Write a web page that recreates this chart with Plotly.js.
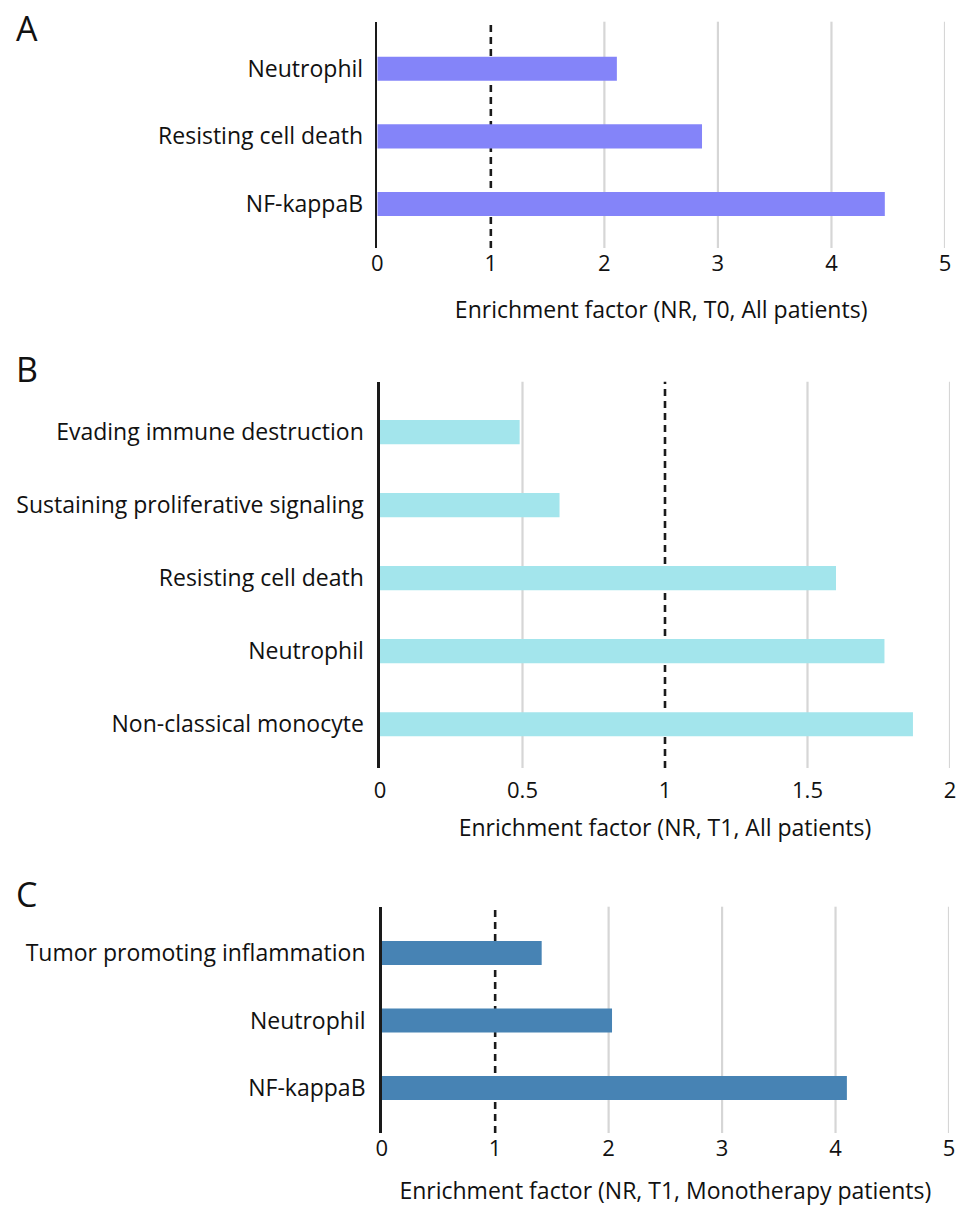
<!DOCTYPE html>
<html>
<head>
<meta charset="utf-8">
<script src="https://cdn.plot.ly/plotly-3.0.1.min.js"></script>
<style>
  html, body { margin: 0; padding: 0; background: #ffffff; }
  #chart { width: 956px; height: 1206px; }
</style>
</head>
<body>
<div id="chart"></div>
<script>
// ---------- data ----------
const catsA = ['Neutrophil', 'Resisting cell death', 'NF-kappaB'];
const valsA = [2.11, 2.86, 4.47];

const catsB = ['Evading immune destruction', 'Sustaining proliferative signaling',
               'Resisting cell death', 'Neutrophil', 'Non-classical monocyte'];
const valsB = [0.49, 0.63, 1.60, 1.77, 1.87];

const catsC = ['Tumor promoting inflammation', 'Neutrophil', 'NF-kappaB'];
const valsC = [1.41, 2.03, 4.10];

const ticksA = [0, 1, 2, 3, 4, 5];
const tickTextA = ['0', '1', '2', '3', '4', '5'];
const ticksB = [0, 0.5, 1, 1.5, 2];
const tickTextB = ['0', '0.5', '1', '1.5', '2'];
const ticksC = [0, 1, 2, 3, 4, 5];
const tickTextC = ['0', '1', '2', '3', '4', '5'];

const refValue = 1;
const panelLetters = ['A', 'B', 'C'];
const axisTitles = [
  'Enrichment factor (NR, T0, All patients)',
  'Enrichment factor (NR, T1, All patients)',
  'Enrichment factor (NR, T1, Monotherapy patients)'
];

// ---------- styling ----------
const FONT = 'Open Sans, Noto Sans, sans-serif';
const W = 956, H = 1206;
const colors = ['#8484F9', '#A3E5EC', '#4783B4'];

const panels = [
  { cats: catsA, vals: valsA, ticks: ticksA, text: tickTextA, range: [0, 5],
    xDom: [377.3 / W, 945 / W], yTop: 21.7, yBot: 248, pad: [0.695, 0.65], width: 0.355,
    ticklen: 0, standoff: 25, ylen: 7 },
  { cats: catsB, vals: valsB, ticks: ticksB, text: tickTextB, range: [0, 2],
    xDom: [380 / W, 950 / W], yTop: 381.7, yBot: 768, pad: [0.69, 0.60], width: 0.33,
    ticklen: 3, standoff: 16, ylen: 9 },
  { cats: catsC, vals: valsC, ticks: ticksC, text: tickTextC, range: [0, 5],
    xDom: [381.7 / W, 949 / W], yTop: 906.7, yBot: 1133, pad: [0.686, 0.667], width: 0.356,
    ticklen: 0, standoff: 21, ylen: 9 }
];

const data = [];
const layout = {
  width: W, height: H,
  margin: { l: 0, r: 0, t: 0, b: 0 },
  paper_bgcolor: '#ffffff',
  plot_bgcolor: 'rgba(0,0,0,0)',
  showlegend: false,
  font: { family: FONT, color: '#111111' },
  shapes: [],
  annotations: []
};

const letterY = [28, 369, 894];

panels.forEach((p, i) => {
  const sfx = i === 0 ? '' : String(i + 1);
  const xa = 'x' + sfx, ya = 'y' + sfx;
  data.push({
    type: 'bar', orientation: 'h',
    x: p.vals, y: p.cats,
    xaxis: xa, yaxis: ya,
    width: p.width,
    marker: { color: colors[i], line: { width: 0 } },
    hoverinfo: 'x+y'
  });
  const n = p.cats.length;
  layout['xaxis' + sfx] = {
    domain: p.xDom,
    anchor: ya,
    range: p.range,
    tickvals: p.ticks,
    ticktext: p.text,
    ticklabeloverflow: 'allow',
    showgrid: false,
    zeroline: false,
    showline: false,
    ticks: p.ticklen > 0 ? 'outside' : '',
    ticklen: p.ticklen,
    tickcolor: 'rgba(0,0,0,0)',
    tickfont: { family: FONT, size: 22, color: '#111111' },
    title: { text: axisTitles[i], font: { family: FONT, size: 23, color: '#111111' }, standoff: p.standoff },
    fixedrange: true
  };
  layout['yaxis' + sfx] = {
    domain: [1 - p.yBot / H, 1 - p.yTop / H],
    anchor: xa,
    type: 'category',
    categoryorder: 'array',
    categoryarray: p.cats,
    range: [n - 1 + p.pad[1], -p.pad[0]],
    showgrid: false,
    zeroline: false,
    showline: true,
    linecolor: '#1a1a1a',
    linewidth: 2.6,
    ticks: 'outside',
    ticklen: p.ylen,
    tickcolor: 'rgba(0,0,0,0)',
    tickfont: { family: FONT, size: 23, color: '#111111' },
    fixedrange: true
  };
  // vertical gridlines at tick values (except 0 = axis line and the reference value)
  p.ticks.forEach(t => {
    if (t === 0 || t === refValue) return;
    layout.shapes.push({
      type: 'line', layer: 'below',
      xref: xa, yref: ya + ' domain',
      x0: t, x1: t, y0: 0, y1: 1,
      line: { color: '#d6d6d6', width: 2.2 }
    });
  });
  // dashed reference line
  layout.shapes.push({
    type: 'line', layer: 'below',
    xref: xa, yref: ya + ' domain',
    x0: refValue, x1: refValue, y0: 0, y1: 1,
    line: { color: '#1a1a1a', width: 2.6, dash: '7px,5px' }
  });
  // panel letter
  layout.annotations.push({
    text: panelLetters[i],
    xref: 'paper', yref: 'paper',
    x: 14 / W, y: 1 - letterY[i] / H,
    xanchor: 'left', yanchor: 'middle',
    showarrow: false,
    font: { family: FONT, size: 34, color: '#111111' }
  });
});

Plotly.newPlot('chart', data, layout, { displayModeBar: false, staticPlot: true });
</script>
</body>
</html>
